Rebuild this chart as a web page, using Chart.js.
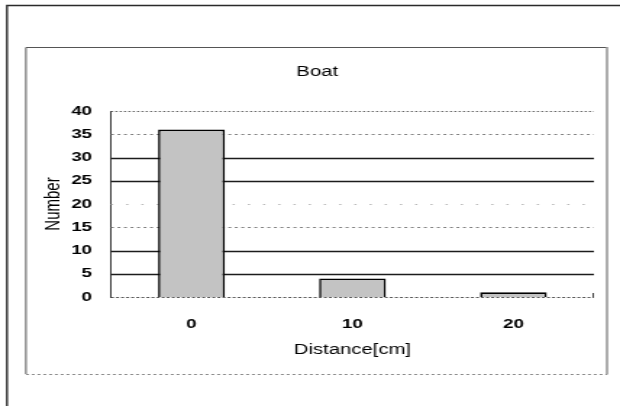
<!DOCTYPE html>
<html>
<head>
<meta charset="utf-8">
<script src="https://cdn.jsdelivr.net/npm/chart.js@4/dist/chart.umd.min.js"></script>
<style>
  html, body { margin: 0; padding: 0; background: #fff; overflow: hidden; }
  #wrap { width: 428px; height: 406px; transform: scaleX(1.4486); transform-origin: 0 0; }
  #c { display: block; width: 428px; height: 406px; }
</style>
</head>
<body>
<div id="wrap"><canvas id="c" width="428" height="406"></canvas></div>
<script>
// Distance bins (cm) and number of boats in each
const categories = ['0', '10', '20'];
const counts = [36, 4, 1];
// value axis range and step
const yMin = 0;
const yMax = 40;
const yStep = 5;

const FONT = '"Liberation Sans", Arial, sans-serif';

// line style for each horizontal gridline
function gridStyle(v) {
  if (v === 5 || v === 10 || v === 25 || v === 30) return { color: '#1c1c1c', width: 1.3, dash: [] };
  if (v === 20) return { color: '#b8b8b8', width: 1, dash: [1.5, 9] };
  if (v === 0) return { color: '#555', width: 1, dash: [2, 1.5] };
  if (v === 40) return { color: '#666', width: 1, dash: [1.5, 1.5] };
  return { color: '#808080', width: 1, dash: [2, 2.5] };
}

const frames = {
  id: 'frames',
  beforeDraw(chart) {
    const ctx = chart.ctx;
    const W = chart.width, H = chart.height;
    ctx.save();
    ctx.fillStyle = '#fff';
    ctx.fillRect(0, 0, W, H);
    // outer frame
    ctx.strokeStyle = '#2a2a2a';
    ctx.lineWidth = 1.4;
    ctx.beginPath();
    ctx.moveTo(4.8, H); ctx.lineTo(4.8, 5.5); ctx.lineTo(W, 5.5);
    ctx.stroke();
    // chart box
    ctx.lineWidth = 1;
    ctx.strokeStyle = '#555';
    ctx.beginPath();
    ctx.moveTo(17.9, 374); ctx.lineTo(17.9, 47.5); ctx.lineTo(419, 47.5);
    ctx.stroke();
    ctx.strokeStyle = '#999';
    ctx.lineWidth = 1.6;
    ctx.beginPath();
    ctx.moveTo(419, 47); ctx.lineTo(419, 374.5);
    ctx.stroke();
    ctx.strokeStyle = '#8a8a8a';
    ctx.lineWidth = 1;
    ctx.setLineDash([2, 2]);
    ctx.beginPath();
    ctx.moveTo(17.9, 374.5); ctx.lineTo(419, 374.5);
    ctx.stroke();
    ctx.restore();
  },
  beforeDatasetsDraw(chart) {
    const ctx = chart.ctx;
    const y = chart.scales.y;
    const { left, right, bottom } = chart.chartArea;
    ctx.save();
    y.ticks.forEach(t => {
      const s = gridStyle(t.value);
      const py = Math.round(y.getPixelForValue(t.value)) + 0.5;
      ctx.strokeStyle = s.color;
      ctx.lineWidth = s.width;
      ctx.setLineDash(s.dash);
      ctx.beginPath();
      ctx.moveTo(left, py);
      ctx.lineTo(right, py);
      ctx.stroke();
    });
    // small end mark on the category axis
    ctx.setLineDash([]);
    ctx.strokeStyle = '#444';
    ctx.lineWidth = 1;
    ctx.beginPath();
    ctx.moveTo(right - 0.5, bottom - 4);
    ctx.lineTo(right - 0.5, bottom + 0.5);
    ctx.stroke();
    ctx.restore();
  }
};

const ctx = document.getElementById('c').getContext('2d');
new Chart(ctx, {
  type: 'bar',
  data: {
    labels: categories,
    datasets: [{
      data: counts,
      backgroundColor: '#c3c3c3',
      borderColor: '#000',
      borderWidth: 1.6,
      barPercentage: 0.415,
      categoryPercentage: 1
    }]
  },
  options: {
    responsive: false,
    devicePixelRatio: 1,
    animation: false,
    layout: { padding: { left: 28, right: 18, top: 0, bottom: 0 } },
    plugins: {
      legend: { display: false },
      tooltip: { enabled: false },
      title: {
        display: true,
        text: 'Boat',
        color: '#000',
        font: { family: FONT, size: 14, weight: 'normal', lineHeight: 1.2 },
        padding: { top: 63.6, bottom: 30.6 }
      }
    },
    scales: {
      x: {
        grid: { display: false, drawTicks: false },
        border: { display: false },
        ticks: { color: '#000', padding: 20, font: { family: FONT, size: 13, weight: 'bold' } },
        title: {
          display: true,
          text: 'Distance[cm]',
          color: '#000',
          font: { family: FONT, size: 14, lineHeight: 1.2 },
          padding: { top: 0, bottom: 47 }
        },
        afterFit(scale) { scale.height = 109; }
      },
      y: {
        min: yMin,
        max: yMax,
        ticks: { stepSize: yStep, color: '#000', padding: 13, font: { family: FONT, size: 13, weight: 'bold' } },
        grid: { display: false, drawTicks: false },
        border: { display: true, color: '#3a3a3a', width: 1 },
        title: {
          display: true,
          text: 'Number',
          color: '#000',
          font: { family: FONT, size: 15, lineHeight: 1.2 },
          padding: { top: 0, bottom: 0 }
        },
        afterFit(scale) { scale.width = 48.6; }
      }
    }
  },
  plugins: [frames]
});
</script>
</body>
</html>
